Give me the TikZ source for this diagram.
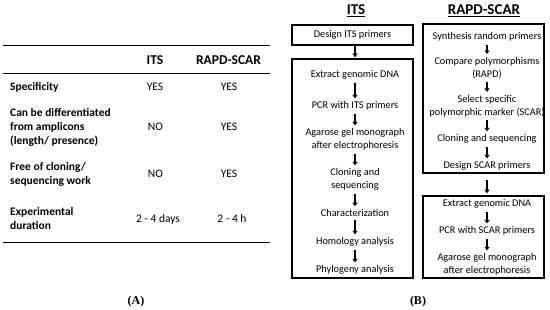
\documentclass[tikz,border=0pt]{standalone}
\usepackage{fontspec}
\setmainfont{Carlito}
\newfontfamily\labserif{Liberation Serif}
\usetikzlibrary{arrows.meta}
\begin{document}
\begin{tikzpicture}[x=1pt,y=-1pt,
  tbl/.style={font=\fontsize{11.5}{14}\selectfont, inner sep=0pt},
  lbl/.style={tbl, font=\fontsize{11.5}{14}\selectfont\bfseries, align=left, anchor=west},
  hdr/.style={font=\fontsize{13.5}{16}\selectfont\bfseries, inner sep=0pt},
  bhdr/.style={font=\fontsize{15}{18}\selectfont\bfseries, inner sep=0pt},
  txt/.style={font=\fontsize{10.3}{13}\selectfont, align=center, inner sep=1pt},
  frame/.style={draw, line width=1.5pt, inner sep=0pt},
  flow/.style={line width=2pt, -{Triangle[length=3.5pt,width=5pt]}, shorten <=2pt, shorten >=2pt},
  rule/.style={line width=1pt},
  panel/.style={font=\fontsize{12}{14}\selectfont\labserif\bfseries, inner sep=0pt}]
\useasboundingbox (0,0) rectangle (550,310);

% ---------- (A) table ----------
\coordinate (r1l) at (3,46);   \coordinate (r1r) at (270,46);
\coordinate (r2l) at (3,74);   \coordinate (r2r) at (270,74);
\coordinate (r3l) at (3,243);  \coordinate (r3r) at (270,243);
\draw[rule] (r1l) -- (r1r);
\draw[rule] (r2l) -- (r2r);
\draw[rule] (r3l) -- (r3r);

\node[hdr] (hits) at (155,60) {ITS};
\node[hdr] (hrapd) at (228.5,60) {RAPD-SCAR};

\node[lbl] (l1) at (10,87) {Specificity};
\node[tbl] (a1) at (155,87) {YES};
\node[tbl] (b1) at (229,87) {YES};

\node[lbl] (l2) at (10,127) {Can be differentiated\\from amplicons\\(length/ presence)};
\node[tbl] (a2) at (155.5,127) {NO};
\node[tbl] (b2) at (229,127) {YES};

\node[lbl] (l3) at (10,174) {Free of cloning/\\sequencing work};
\node[tbl] (a3) at (155.5,174) {NO};
\node[tbl] (b3) at (229,174) {YES};

\node[lbl] (l4) at (10,219) {Experimental\\duration};
\node[tbl] (a4) at (158,219) {2 - 4 days};
\node[tbl] (b4) at (232,219) {2 - 4 h};

\node[panel] (pa) at (136,302) {(A)};

% ---------- (B) flow ----------
\node[bhdr] (tits) at (356,11) {\underline{ITS}};
\node[bhdr] (trapd) at (484,11) {\underline{RAPD-SCAR}};

% ITS column
\node[frame, minimum width=121pt, minimum height=20pt, txt] (d1) at (352.5,35) {Design ITS primers};
\node[frame, minimum width=121pt, minimum height=219pt] (itsbox) at (352.5,168.5) {};
\node[txt] (i1) at (355,75) {Extract genomic DNA};
\node[txt] (i2) at (355,106) {PCR with ITS primers};
\node[txt] (i3) at (355,139.5) {Agarose gel monograph\\after electrophoresis};
\node[txt] (i4) at (355,179.5) {Cloning and\\sequencing};
\node[txt] (i5) at (355,213) {Characterization};
\node[txt] (i6) at (355,242) {Homology analysis};
\node[txt] (i7) at (355,270) {Phylogeny analysis};

\draw[flow, shorten <=0.5pt, shorten >=1pt] (d1.south -| 355,0) -- (itsbox.north -| 355,0);
\draw[flow] (i1) -- (i2);
\draw[flow] (i2) -- (i3);
\draw[flow] (i3) -- (i4);
\draw[flow] (i4) -- (i5);
\draw[flow] (i5) -- (i6);
\draw[flow] (i6) -- (i7);

% RAPD-SCAR column
\node[frame, minimum width=121pt, minimum height=149pt] (rbox) at (483.5,98.5) {};
\node[txt] (s1) at (487,37) {Synthesis random primers};
\node[txt] (s2) at (487,68) {Compare polymorphisms\\(RAPD)};
\node[txt] (s3) at (487,106) {Select specific\\polymorphic marker (SCAR)};
\node[txt] (s4) at (487,139) {Cloning and sequencing};
\node[txt] (s5) at (487,166) {Design SCAR primers};

\draw[flow] (s1) -- (s2);
\draw[flow] (s2) -- (s3);
\draw[flow] (s3) -- (s4);
\draw[flow] (s4) -- (s5);

\node[frame, minimum width=121pt, minimum height=82pt] (rbox2) at (483.5,237) {};
\node[txt] (u1) at (487,204) {Extract genomic DNA};
\node[txt] (u2) at (487,231) {PCR with SCAR primers};
\node[txt] (u3) at (487,264.5) {Agarose gel monograph\\after electrophoresis};

\draw[flow, shorten <=6pt, shorten >=2pt] (rbox.south -| 487,0) -- (rbox2.north -| 487,0);
\draw[flow] (u1) -- (u2);
\draw[flow] (u2) -- (u3);

\node[panel] (pb) at (418,302) {(B)};
\end{tikzpicture}
\end{document}
